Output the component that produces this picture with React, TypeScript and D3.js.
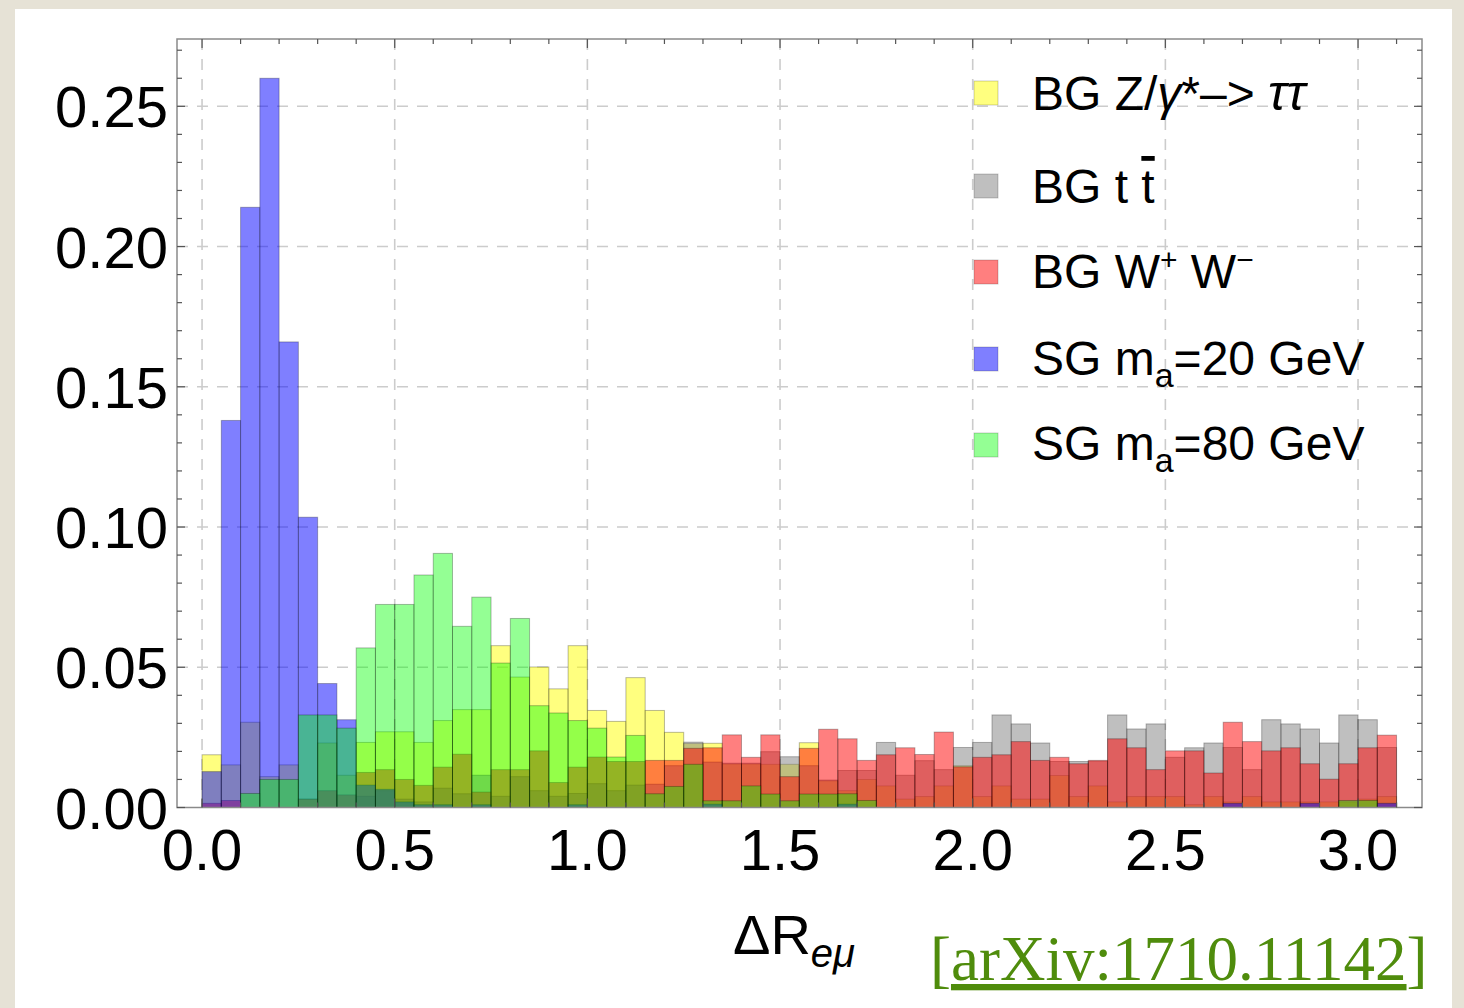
import React, { useEffect } from 'react';
import * as d3 from 'd3';

// ---------- data (normalized fraction per bin of width 0.05 in ΔR_eμ) ----------
const BIN_WIDTH = 0.05;
const binStarts = d3.range(62).map((i) => +(i * BIN_WIDTH).toFixed(2));

const bgZtautau = [
  0.0188, 0.0152, 0.0304, 0.011, 0.0152, 0.003, 0.023, 0.0115, 0.0232, 0.027,
  0.027, 0.0232, 0.031, 0.0349, 0.0349, 0.0577, 0.0465, 0.0501, 0.0423, 0.0577,
  0.0346, 0.0307, 0.0463, 0.0346, 0.0268, 0.0228, 0.0229, 0.0155, 0.0155, 0.0154,
  0.0154, 0.0231, 0.0095, 0.006, 0.01, 0.0077, 0.003, 0.0039, 0.0077, 0.0149,
  0.0039, 0.0077, 0.003, 0.003, 0.0114, 0.0039, 0.0077, 0.002, 0.0039, 0.0039,
  0.0039, 0.001, 0.0039, 0.002, 0.0039, 0.002, 0.002, 0.002, 0.002, 0.002,
  0.003, 0.0039,
];
const bgTtbar = [
  0, 0, 0, 0, 0, 0, 0, 0, 0.004, 0.006,
  0.003, 0.002, 0.0069, 0.0049, 0.0115, 0.004, 0.011, 0.006, 0.004, 0.005,
  0.0085, 0.006, 0.008, 0.0083, 0.0149, 0.0233, 0.0162, 0.0158, 0.0158, 0.0199,
  0.0181, 0.0149, 0.0098, 0.0132, 0.0132, 0.0232, 0.0115, 0.0167, 0.0135, 0.0214,
  0.0232, 0.033, 0.0298, 0.023, 0.0164, 0.0164, 0.0165, 0.033, 0.028, 0.0298,
  0.0179, 0.0213, 0.023, 0.0214, 0.0135, 0.0313, 0.0298, 0.028, 0.023, 0.033,
  0.0313, 0.0214,
];
const bgWW = [
  0.0015, 0.0025, 0, 0, 0, 0.003, 0.006, 0.0045, 0.0125, 0.0135,
  0.01, 0.0079, 0.0144, 0.019, 0.0055, 0.0135, 0.0135, 0.0202, 0.0089, 0.0144,
  0.018, 0.0164, 0.0164, 0.0168, 0.0168, 0.0211, 0.0213, 0.0259, 0.0179, 0.0259,
  0.011, 0.0211, 0.0279, 0.0245, 0.0168, 0.0188, 0.0213, 0.0189, 0.0269, 0.0145,
  0.0179, 0.0188, 0.0235, 0.0168, 0.0179, 0.0156, 0.0168, 0.0245, 0.0213, 0.0135,
  0.0202, 0.0202, 0.0123, 0.0304, 0.0235, 0.0202, 0.0213, 0.0156, 0.0101, 0.0156,
  0.0213, 0.0258,
];
const sgMa20 = [
  0.0128, 0.138, 0.214, 0.26, 0.166, 0.1035, 0.0442, 0.0313, 0.008, 0.0065,
  0.002, 0.001, 0.001, 0, 0.001, 0, 0, 0, 0, 0.001,
  0, 0, 0, 0, 0, 0, 0.0012, 0, 0, 0,
  0, 0, 0, 0.0012, 0, 0, 0, 0, 0, 0,
  0, 0, 0, 0, 0, 0, 0, 0, 0, 0,
  0, 0, 0, 0.0015, 0, 0, 0, 0.0015, 0, 0,
  0, 0.0015,
];
const sgMa80 = [
  0, 0, 0.005, 0.01, 0.01, 0.033, 0.033, 0.0283, 0.0569, 0.0724,
  0.0724, 0.0829, 0.0906, 0.0646, 0.075, 0.0515, 0.0674, 0.0363, 0.0337, 0.031,
  0.0283, 0.018, 0.0257, 0.0049, 0.0075, 0.0154, 0.0024, 0.0024, 0.0077, 0.0048,
  0.0024, 0.0048, 0.0048, 0.0049, 0.0025, 0, 0, 0, 0, 0,
  0, 0, 0, 0, 0, 0, 0, 0, 0, 0,
  0, 0, 0, 0, 0, 0, 0, 0, 0, 0.0025,
  0.0025, 0,
];

const seriesValues = [bgZtautau, bgTtbar, bgWW, sgMa20, sgMa80];
const seriesColors = ['#ffff00', '#808080', '#ff0000', '#0000ff', '#00ff00'];
const seriesOpacity = [0.5, 0.5, 0.5, 0.5, 0.42];

const xTicks = [0, 0.5, 1.0, 1.5, 2.0, 2.5, 3.0];
const yTicks = [0, 0.05, 0.1, 0.15, 0.2, 0.25];
const xMinorTicks = d3.range(0, 32).map((i) => +(i * 0.1).toFixed(2));
const yMinorTicks = d3.range(0, 28).map((i) => +(i * 0.01).toFixed(2));

const FONT = 'Liberation Sans, Arial, Helvetica, sans-serif';

export default function App() {
  useEffect(() => {
    document.body.style.margin = '0';
    document.body.style.background = '#e6e2d6';
  }, []);

  const W = 1464;
  const H = 1008;
  const left = 177;
  const right = 1422;
  const top = 39;
  const bottom = 807.5;

  const x = d3.scaleLinear().domain([-0.065, 3.166]).range([left, right]);
  const y = d3.scaleLinear().domain([0, 0.274]).range([bottom, top]);

  const fmtY = d3.format('.2f');
  const fmtX = d3.format('.1f');

  const legendRows = [
    { cy: 93, base: 110 },
    { cy: 186, base: 203 },
    { cy: 272, base: 288 },
    { cy: 359, base: 375 },
    { cy: 445, base: 460 },
  ];

  const legendLabels = [
    <>
      BG Z/<tspan fontStyle="italic">γ</tspan>*–&gt; <tspan fontStyle="italic" fontSize={50}>ττ</tspan>
    </>,
    <>
      BG t <tspan style={{ textDecoration: 'overline' }}>t</tspan>
    </>,
    <>
      BG W<tspan dy={-18} fontSize={30}>+</tspan>
      <tspan dy={18}> W</tspan>
      <tspan dy={-18} fontSize={30}>−</tspan>
    </>,
    <>
      SG m<tspan dy={12} fontSize={34}>a</tspan>
      <tspan dy={-12}>=20 GeV</tspan>
    </>,
    <>
      SG m<tspan dy={12} fontSize={34}>a</tspan>
      <tspan dy={-12}>=80 GeV</tspan>
    </>,
  ];

  return (
    <svg width={W} height={H} style={{ display: 'block' }} xmlns="http://www.w3.org/2000/svg">
      <rect x={0} y={0} width={W} height={H} fill="#e6e2d6" />
      <rect x={15} y={9} width={1437} height={H} fill="#ffffff" />

      {/* grid */}
      {xTicks.map((t) => (
        <line key={'gx' + t} x1={x(t)} x2={x(t)} y1={top} y2={bottom} stroke="#cccccc" strokeWidth={1.6} strokeDasharray="11,9" />
      ))}
      {yTicks.filter((t) => t > 0).map((t) => (
        <line key={'gy' + t} x1={left} x2={right} y1={y(t)} y2={y(t)} stroke="#cccccc" strokeWidth={1.6} strokeDasharray="11,9" />
      ))}

      {/* histograms */}
      {seriesValues.map((vals, si) => (
        <g key={'s' + si}>
          {vals.map((v, i) =>
            v > 0 ? (
              <rect
                key={i}
                x={x(binStarts[i])}
                y={y(v)}
                width={x(binStarts[i] + BIN_WIDTH) - x(binStarts[i])}
                height={y(0) - y(v)}
                fill={seriesColors[si]}
                fillOpacity={seriesOpacity[si]}
                stroke="#000"
                strokeOpacity={0.28}
                strokeWidth={1}
              />
            ) : null
          )}
        </g>
      ))}

      {/* frame */}
      <rect x={left} y={top} width={right - left} height={bottom - top} fill="none" stroke="#8a8a8a" strokeWidth={1.5} />

      {/* ticks */}
      {xMinorTicks.map((t) => {
        const major = xTicks.some((m) => Math.abs(m - t) < 1e-6);
        const len = major ? 9 : 5;
        return (
          <g key={'xt' + t} stroke="#555" strokeWidth={1.2}>
            <line x1={x(t)} x2={x(t)} y1={top} y2={top + len} />
            <line x1={x(t)} x2={x(t)} y1={bottom} y2={bottom - len} />
          </g>
        );
      })}
      {yMinorTicks.map((t) => {
        const major = yTicks.some((m) => Math.abs(m - t) < 1e-6);
        const len = major ? 8 : 5;
        return (
          <g key={'yt' + t} stroke="#555" strokeWidth={1.2}>
            <line x1={left} x2={left + len} y1={y(t)} y2={y(t)} />
            <line x1={right} x2={right - len} y1={y(t)} y2={y(t)} />
          </g>
        );
      })}

      {/* tick labels */}
      {yTicks.map((t) => (
        <text key={'yl' + t} x={168} y={y(t) + 21} textAnchor="end" fontFamily={FONT} fontSize={58} fill="#000">
          {fmtY(t)}
        </text>
      ))}
      {xTicks.map((t) => (
        <text key={'xl' + t} x={x(t)} y={870} textAnchor="middle" fontFamily={FONT} fontSize={58} fill="#000">
          {fmtX(t)}
        </text>
      ))}

      {/* axis label */}
      <text x={733} y={954} fontFamily={FONT} fontSize={56} fill="#000">
        ΔR<tspan dy={13} fontSize={40} fontStyle="italic">eμ</tspan>
      </text>

      {/* legend */}
      {legendRows.map((r, i) => (
        <g key={'lg' + i}>
          <rect x={974} y={r.cy - 12} width={24} height={24} fill={seriesColors[i]} fillOpacity={seriesOpacity[i]} stroke="#000" strokeOpacity={0.2} strokeWidth={1} />
          <text x={1032} y={r.base} fontFamily={FONT} fontSize={48} fill="#000">
            {legendLabels[i]}
          </text>
        </g>
      ))}

      {/* citation */}
      <text x={930} y={980} fontFamily="Liberation Serif, Times New Roman, serif" fontSize={63} fill="#4f8c0c">
        [<tspan style={{ textDecoration: 'underline' }}>arXiv:1710.11142</tspan>]
      </text>
    </svg>
  );
}
